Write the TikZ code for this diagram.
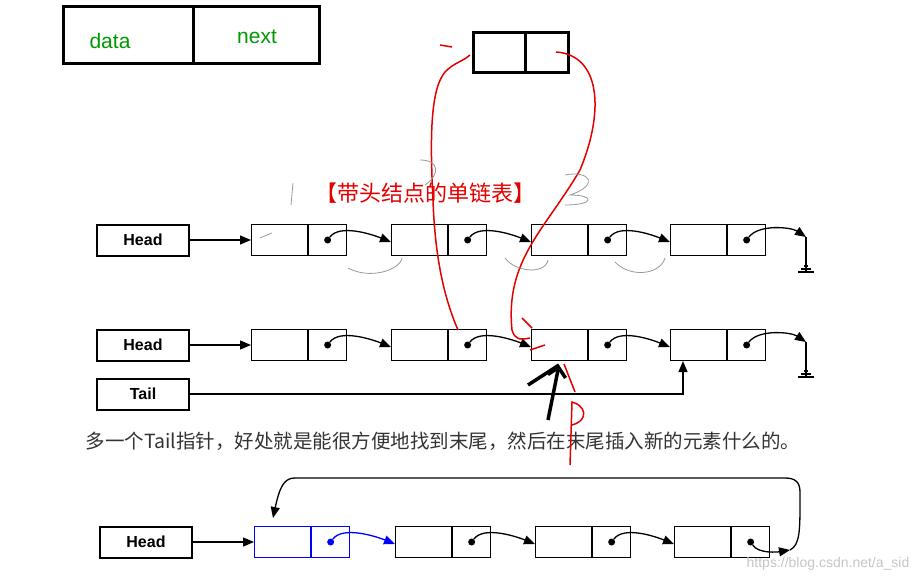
\documentclass[tikz,border=0pt]{standalone}
\usepackage{fontspec}
\setmainfont{Liberation Sans}
\newfontfamily\cjk{Noto Sans CJK SC}
\usetikzlibrary{arrows.meta}
\begin{document}
\begin{tikzpicture}[x=1pt,y=-1pt,
  hbox/.style={draw,line width=2pt,minimum width=92pt,minimum height=31pt,inner sep=0,font=\bfseries\fontsize{16}{16}\selectfont},
  cell/.style={draw,line width=1.1pt,minimum width=56pt,minimum height=31pt,inner sep=0},
  pcell/.style={draw,line width=1.1pt,minimum width=38pt,minimum height=31pt,inner sep=0},
  lnk/.style={line width=1.3pt,-{Triangle[length=11pt,width=9pt]}},
  dotc/.style={circle,fill,inner sep=0,minimum size=7pt},
  red/.style={draw=red!90!black,line width=1.5pt},
  gsc/.style={draw=gray!80,line width=0.8pt}]
\useasboundingbox[fill=white] (0,0) rectangle (923,583);
% top box
\draw[line width=3pt] (63,7) rectangle (319,64) (193,7) -- (193,64);
\node[text=green!60!black,font=\fontsize{21}{21}\selectfont] (dt) at (110,41) {data};
\node[text=green!60!black,font=\fontsize{21}{21}\selectfont] (nx) at (257,37) {next};
\draw[line width=3pt] (473,33) rectangle (568,73) (525,33) -- (525,73);
\coordinate (sbl) at (470,55); \coordinate (sbr) at (556,52);
% title
\node[text=red!90!black,font=\cjk\fontsize{22}{22}\selectfont] (ttl) at (425,193) {【带头结点的单链表】};
% rows
\foreach \r/\y in {a/240,b/345}{
  \node[hbox] (\r h) at (143,\y) {Head};
  \foreach \i/\x in {1/251,2/391,3/531,4/670}{
    \node[cell,anchor=west] (\r d\i) at (\x,\y) {};
    \node[pcell,anchor=west] (\r p\i) at (\r d\i.east) {};
    \node[dotc] (\r o\i) at (\r p\i) {};
  }
  \draw[lnk] (\r h) -- (\r d1);
  \foreach \i/\j in {1/2,2/3,3/4}{
    \draw[lnk] (\r o\i) .. controls +(12,-16) and +(-20,-8) .. ([yshift=-2pt]\r d\j.west);
  }
  \coordinate (\r g) at (806,\y-3);
  \draw[lnk] (\r o4) .. controls +(12,-16) and +(-15,-10) .. (\r g);
  \draw[line width=1.1pt] (\r g) -- ++(0,35) coordinate (\r gg);
  \draw[line width=1.1pt] ([xshift=-8pt]\r gg) -- ([xshift=8pt]\r gg)
    ([xshift=-5pt,yshift=3pt]\r gg) -- ([xshift=5pt,yshift=3pt]\r gg)
    ([xshift=-2pt,yshift=6pt]\r gg) -- ([xshift=2pt,yshift=6pt]\r gg);
}
\node[hbox] (tail) at (143,394) {Tail};
\draw[lnk] (tail.east) -- (683,394) -- (bd4.south west -| 683,0);
% note
\node[anchor=west,text=black!80,font=\cjk\fontsize{19.5}{20}\selectfont] (note) at (82,441) {多一个Tail指针，好处就是能很方便地找到末尾，然后在末尾插入新的元素什么的。};
% row 3
\node[hbox] (ch) at (146,542) {Head};
\foreach \i/\x/\c in {1/254/blue,2/395/black,3/535/black,4/674/black}{
  \node[cell,anchor=west,draw=\c] (cd\i) at (\x,542) {};
  \node[pcell,anchor=west,draw=\c] (cp\i) at (cd\i.east) {};
  \node[dotc,fill=\c] (co\i) at (cp\i) {};
}
\draw[lnk] (ch) -- (cd1);
\draw[lnk,blue] (co1) .. controls +(12,-16) and +(-20,-8) .. ([yshift=-2pt]cd2.west);
\draw[lnk] (co2) .. controls +(12,-16) and +(-20,-8) .. ([yshift=-2pt]cd3.west);
\draw[lnk] (co3) .. controls +(12,-16) and +(-20,-8) .. ([yshift=-2pt]cd4.west);
\coordinate (lp) at (790,550);
\draw[lnk] (co4) .. controls +(8,12) and +(-12,2) .. (lp);
\draw[lnk] (lp) .. controls (800,545) and (800,530) .. (800,500) -- (800,492)
  .. controls (800,482) and (795,478) .. (785,478) -- (295,478)
  .. controls (285,478) and (280,485) .. (273,518);
\node[text=gray!45,font=\fontsize{14}{14}\selectfont] (wm) at (828,564) {https://blog.csdn.net/a\_sid};
% red scribbles
\draw[red] (458,330) .. controls (445,300) and (435,260) .. (433,200) .. controls (430,140) and (430,90) .. (445,72) .. controls (455,62) and (462,62) .. (sbl);
\draw[red] (440,45) -- (452,47);
\draw[red] (sbr) .. controls (600,55) and (605,110) .. (580,170) .. controls (545,230) and (505,260) .. (512,330) .. controls (515,340) and (520,340) .. (530,338);
\draw[red] (522,318) -- (532,328) (530,350) -- (545,345);
\draw[red] (564,364) -- (575,392);
\draw[red] (570,465) -- (572,402) .. controls (585,405) and (590,420) .. (572,425);
% black arrow
\draw[line width=3.5pt,-{Straight Barb[length=9pt]}] (548,420) -- (559,365);
\draw[line width=3.5pt] (528,385) -- (559,365);
% gray scribbles
\draw[gsc] (293,183) -- (291,205) (260,238) -- (272,233);
\draw[gsc] (420,160) .. controls (440,160) and (440,175) .. (425,185);
\draw[gsc] (565,175) .. controls (590,170) and (600,185) .. (570,195) .. controls (595,195) and (595,205) .. (565,205);
\draw[gsc] (348,268) .. controls (370,280) and (400,270) .. (402,258);
\draw[gsc] (505,258) .. controls (515,272) and (545,275) .. (548,260);
\draw[gsc] (615,262) .. controls (630,278) and (660,275) .. (665,258);
\end{tikzpicture}
\end{document}
